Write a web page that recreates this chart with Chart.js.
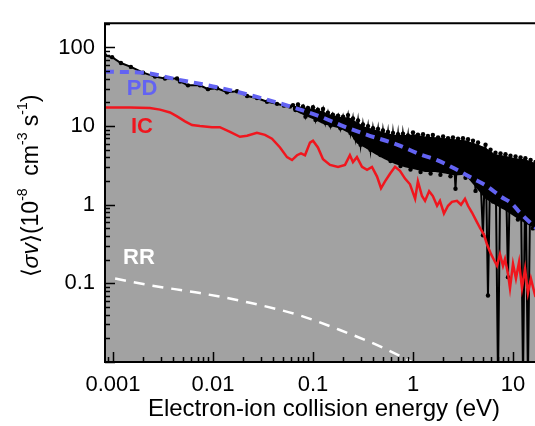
<!DOCTYPE html>
<html>
<head>
<meta charset="utf-8">
<script src="https://cdn.jsdelivr.net/npm/chart.js@4.4.1/dist/chart.umd.min.js"></script>
<style>
  html, body { margin: 0; padding: 0; background: #fff; overflow: hidden; }
  #wrap { position: relative; width: 548px; height: 426px; }
</style>
</head>
<body>
<div id="wrap"><canvas id="rateChart"></canvas></div>
<script>
// measured rate coefficient, smooth low-energy part
var lowEnergy = [0.00083, 0.00098, 0.0012, 0.00151, 0.0020, 0.00263, 0.00331, 0.00437, 0.00468, 0.00562,
  0.00741, 0.00891, 0.0110, 0.0138, 0.0174, 0.0219, 0.0275, 0.0347, 0.0437, 0.0513, 0.0589];
var lowValue = [79.6, 75.3, 63.4, 56.6, 47.8, 42.6, 40.3, 40.3, 37.0, 33.0,
  33.0, 29.5, 30.3, 27.0, 27.8, 24.1, 22.8, 20.4, 19.2, 18.2, 17.7];

// measured rate coefficient, noisy part (resonances + error bars)
var noisyEnergy = [0.0631, 0.0668, 0.0708, 0.0750, 0.0794, 0.0841, 0.0891, 0.0944,
  0.100, 0.106, 0.112, 0.119, 0.126, 0.133, 0.141, 0.150, 0.158, 0.168, 0.178, 0.188,
  0.200, 0.211, 0.224, 0.237, 0.251, 0.266, 0.282, 0.299, 0.316, 0.335, 0.355, 0.376,
  0.398, 0.422, 0.447, 0.473, 0.501, 0.531, 0.562, 0.596, 0.631, 0.668, 0.708, 0.750,
  0.794, 0.841, 0.891, 0.944, 1.00, 1.06, 1.12, 1.19, 1.26, 1.33, 1.41, 1.50, 1.58,
  1.68, 1.78, 1.88, 2.00, 2.11, 2.24, 2.37, 2.51, 2.66, 2.82, 2.98, 3.16, 3.35, 3.55,
  3.76, 3.98, 4.22, 4.47, 4.73, 5.01, 5.31, 5.62, 5.96, 6.31, 6.68, 7.08, 7.50, 7.94,
  8.41, 8.91, 9.44, 10.0, 10.6, 11.2, 11.9, 12.6, 13.3, 14.1, 15.0, 15.8, 16.8];
var noisyValue = [18.5, 16.0, 18.8, 15.5, 17.8, 13.2, 17.0, 14.8, 17.4, 12.0,
  16.2, 13.5, 16.5, 11.0, 14.8, 10.2, 14.0, 11.5, 13.6, 9.4,
  13.2, 9.8, 13.8, 8.2, 12.5, 7.0, 11.8, 5.8, 10.5, 6.5,
  10.0, 5.0, 9.4, 6.0, 9.2, 4.3, 8.8, 5.2, 8.4, 3.6,
  8.2, 4.4, 7.9, 3.1, 8.0, 4.8, 7.6, 2.8, 8.3, 3.9,
  7.8, 2.6, 7.9, 4.2, 7.5, 2.5, 7.7, 3.6, 7.2, 2.4,
  7.4, 4.0, 7.0, 2.3, 7.2, 1.6, 6.9, 3.2, 7.0, 2.2,
  6.8, 3.0, 6.5, 1.5, 6.2, 2.2, 0.41, 5.8, 0.07, 5.0,
  1.1, 4.6, 0.006, 4.5, 0.95, 4.4, 0.12, 4.2, 0.8, 4.1,
  0.65, 4.0, 0.006, 3.9, 0.006, 3.7, 0.5, 3.5];

// envelope of the error bars in the noisy part (black band) and top of grey shade
var bandEnergy = [0.063, 0.083, 0.105, 0.123, 0.148, 0.186, 0.234, 0.275, 0.33, 0.42, 0.52, 0.66, 0.83,
  1.05, 1.32, 1.66, 2.09, 2.63, 3.31, 4.17, 5.25, 6.6, 8.3, 10.5, 13.2, 16.6];
var bandTop = [18.3, 17.3, 16.4, 15.4, 14.0, 13.2, 12.8, 11.2, 9.8, 9.0, 8.3, 7.7, 7.7,
  7.8, 7.4, 7.2, 7.0, 6.8, 6.6, 6.0, 5.4, 4.4, 4.2, 3.9, 3.8, 3.4];
var bandBottom = [16.0, 13.5, 12.0, 10.8, 10.0, 9.3, 8.0, 6.0, 5.3, 4.4, 3.8, 3.3, 3.0,
  2.8, 2.6, 2.6, 2.5, 2.35, 2.4, 1.7, 1.2, 1.0, 0.85, 0.7, 0.58, 0.5];

// PD (blue dashed)
var pdEnergy = [0.00083, 0.0020, 0.00437, 0.0110, 0.0275, 0.0692, 0.117, 0.200, 0.347, 0.692,
  1.17, 1.74, 2.75, 3.98, 5.50, 7.41, 9.77, 11.7, 16.6, 19.9];
var pdValue = [49.1, 47.8, 39.2, 31.2, 23.5, 16.7, 13.3, 10.0, 7.74, 5.83,
  4.39, 3.70, 2.78, 2.15, 1.72, 1.29, 1.03, 0.796, 0.520, 0.42];

// IC (red)
var icEnergy = [0.00083, 0.00148, 0.00234, 0.00295, 0.00372, 0.00437, 0.00525, 0.00617, 0.00741, 0.00977,
  0.0117, 0.0148, 0.0186, 0.0219, 0.0275, 0.0331, 0.0389, 0.0468, 0.0550, 0.0617,
  0.0692, 0.0759, 0.0832, 0.0933, 0.100, 0.112, 0.126, 0.148, 0.178, 0.209,
  0.234, 0.251, 0.275, 0.309, 0.347, 0.389, 0.437, 0.479, 0.525, 0.589,
  0.661, 0.741, 0.832, 0.933, 1.05, 1.12, 1.23, 1.32, 1.45, 1.58,
  1.74, 1.86, 2.04, 2.24, 2.45, 2.75, 3.02, 3.31, 3.55, 3.89,
  4.27, 4.68, 5.13, 5.50, 6.03, 6.46, 6.92, 7.41, 7.94, 8.32,
  8.91, 9.33, 10.0, 10.7, 11.5, 12.3, 13.2, 14.1, 15.1, 16.6, 19.9];
var icValue = [17.2, 17.2, 17.0, 16.2, 14.9, 13.3, 11.5, 10.3, 10.0, 9.7,
  9.7, 8.43, 7.31, 7.53, 8.2, 7.74, 6.91, 5.35, 4.03, 3.70,
  4.26, 4.51, 4.26, 6.17, 6.53, 5.35, 3.80, 3.21, 3.03, 3.21,
  4.26, 3.49, 4.03, 3.03, 2.78, 3.03, 2.28, 1.62, 1.98, 2.48,
  3.03, 2.70, 2.15, 1.82, 1.19, 1.98, 1.29, 1.12, 1.49, 1.29,
  0.97, 1.12, 0.774, 0.97, 1.09, 1.12, 1.0, 1.19, 0.97, 0.796,
  0.634, 0.506, 0.414, 0.312, 0.235, 0.198, 0.167, 0.235, 0.167, 0.204,
  0.133, 0.0867, 0.177, 0.115, 0.187, 0.0867, 0.153, 0.0753, 0.115, 0.0711, 0.09];

// RR (white dashed)
var rrEnergy = [0.00105, 0.00234, 0.00741, 0.0234, 0.0741, 0.186, 0.468, 0.933, 1.1];
var rrValue = [0.115, 0.0945, 0.0753, 0.0566, 0.0391, 0.0255, 0.0158, 0.0103, 0.0092];

var xTickValues = [0.001, 0.01, 0.1, 1, 10];
var xTickLabels = ["0.001", "0.01", "0.1", "1", "10"];
var yTickValues = [0.1, 1, 10, 100];
var yTickLabels = ["0.1", "1", "10", "100"];

// curve names written inside the plot
var curveNames = [
  { text: "PD", color: "#6363F2", e: 0.00195, v: 29.5 },
  { text: "IC", color: "#F0161E", e: 0.00195, v: 9.8 },
  { text: "RR", color: "#FFFFFF", e: 0.00182, v: 0.212 },
];

var FONT = "'Liberation Sans', Arial, sans-serif";

function pts(xs, ys) {
  return xs.map((x, i) => ({ x: x, y: ys[i] }));
}

var frame = {
  id: "frame",
  afterDatasetsDraw(chart) {
    const ctx = chart.ctx;
    const a = chart.chartArea;
    const xs = chart.scales.x;
    const ys = chart.scales.y;
    ctx.save();
    ctx.strokeStyle = "#000";
    ctx.lineWidth = 1.5;
    ctx.beginPath();
    // inward tick marks, long on decades
    for (let d = -4; d <= 2; d++) {
      for (let m = 1; m <= 9; m++) {
        const v = m * Math.pow(10, d);
        const len = m === 1 ? 10 : 5;
        if (v >= xs.min && v <= xs.max) {
          const px = Math.round(xs.getPixelForValue(v)) + 0.5;
          ctx.moveTo(px, a.bottom);
          ctx.lineTo(px, a.bottom - len);
        }
        if (v >= ys.min && v <= ys.max) {
          const py = Math.round(ys.getPixelForValue(v)) + 0.5;
          ctx.moveTo(a.left, py);
          ctx.lineTo(a.left + len, py);
        }
      }
    }
    ctx.stroke();
    // box (right side is off the page)
    ctx.lineWidth = 2;
    ctx.beginPath();
    ctx.moveTo(a.right + 5, a.top);
    ctx.lineTo(a.left, a.top);
    ctx.lineTo(a.left, a.bottom);
    ctx.lineTo(a.right + 5, a.bottom);
    ctx.stroke();

    // curve names
    ctx.font = "bold 22px " + FONT;
    ctx.textAlign = "center";
    ctx.textBaseline = "middle";
    curveNames.forEach((n) => {
      ctx.fillStyle = n.color;
      ctx.fillText(n.text, xs.getPixelForValue(n.e), ys.getPixelForValue(n.v));
    });

    // x title
    ctx.fillStyle = "#000";
    ctx.font = "24px " + FONT;
    ctx.fillText("Electron-ion collision energy (eV)", 324, 409);

    // y title with superscripts
    const parts = [
      { t: "\u27E8", f: "23px " + FONT, dy: 0 },
      { t: "\u03C3v", f: "italic 23px " + FONT, dy: 0 },
      { t: "\u27E9(10", f: "23px " + FONT, dy: 0 },
      { t: "-8", f: "14px " + FONT, dy: -9 },
      { t: "  cm", f: "23px " + FONT, dy: 0 },
      { t: "-3", f: "14px " + FONT, dy: -9 },
      { t: " s", f: "23px " + FONT, dy: 0 },
      { t: "-1", f: "14px " + FONT, dy: -9 },
      { t: ")", f: "23px " + FONT, dy: 0 },
    ];
    let total = 0;
    parts.forEach((p) => {
      ctx.font = p.f;
      p.w = ctx.measureText(p.t).width;
      total += p.w;
    });
    ctx.translate(32, 186);
    ctx.rotate(-Math.PI / 2);
    ctx.textAlign = "left";
    let cx = -total / 2;
    parts.forEach((p) => {
      ctx.font = p.f;
      ctx.fillText(p.t, cx, p.dy);
      cx += p.w;
    });
    ctx.restore();
  },
};

new Chart(document.getElementById("rateChart"), {
  type: "line",
  data: {
    datasets: [
      {
        label: "PD",
        data: pts(pdEnergy, pdValue),
        borderColor: "#6363F2",
        borderWidth: 4,
        borderDash: [9, 6],
        pointRadius: 0,
        cubicInterpolationMode: "monotone",
        order: 1,
      },
      {
        label: "IC",
        data: pts(icEnergy, icValue),
        borderColor: "#F0161E",
        borderWidth: 2.5,
        pointRadius: 0,
        order: 2,
      },
      {
        label: "RR",
        data: pts(rrEnergy, rrValue),
        borderColor: "#FFFFFF",
        borderWidth: 2.5,
        borderDash: [11, 8],
        pointRadius: 0,
        cubicInterpolationMode: "monotone",
        order: 3,
      },
      {
        label: "Experiment",
        data: pts(lowEnergy.concat(noisyEnergy), lowValue.concat(noisyValue)),
        borderColor: "#000",
        backgroundColor: "#000",
        borderWidth: 2,
        pointRadius: 2.2,
        pointBorderWidth: 0,
        order: 4,
      },
      {
        label: "errorBand",
        data: pts(bandEnergy, bandTop),
        borderWidth: 0,
        pointRadius: 0,
        backgroundColor: "#000",
        fill: { target: 5 },
        order: 5,
      },
      {
        label: "errorBandBottom",
        data: pts(bandEnergy, bandBottom),
        borderWidth: 0,
        pointRadius: 0,
        order: 6,
      },
      {
        label: "shade",
        data: pts(lowEnergy.concat(bandEnergy), lowValue.concat(bandTop)),
        borderWidth: 0,
        pointRadius: 0,
        backgroundColor: "#A2A2A2",
        fill: "start",
        order: 7,
      },
    ],
  },
  options: {
    responsive: true,
    maintainAspectRatio: false,
    animation: false,
    layout: { padding: { top: 13, left: 0, right: 5, bottom: 0 } },
    plugins: { legend: { display: false }, tooltip: { enabled: false } },
    scales: {
      x: {
        type: "logarithmic",
        min: 0.000832,
        max: 19.95,
        afterBuildTicks: (s) => { s.ticks = xTickValues.map((v) => ({ value: v })); },
        afterFit: (s) => { s.height = 64; },
        grid: { display: false, drawTicks: false },
        border: { display: false },
        ticks: {
          callback: (v, i) => xTickLabels[i],
          font: { family: FONT, size: 22 },
          color: "#000",
          padding: 10,
          maxRotation: 0,
          autoSkip: false,
        },
      },
      y: {
        type: "logarithmic",
        min: 0.01,
        max: 203.6,
        afterBuildTicks: (s) => { s.ticks = yTickValues.map((v) => ({ value: v })); },
        afterFit: (s) => { s.width = 105; },
        grid: { display: false, drawTicks: false },
        border: { display: false },
        ticks: {
          callback: (v, i) => yTickLabels[i],
          font: { family: FONT, size: 22 },
          color: "#000",
          padding: 10,
          autoSkip: false,
        },
      },
    },
  },
  plugins: [frame],
});
</script>
</body>
</html>
